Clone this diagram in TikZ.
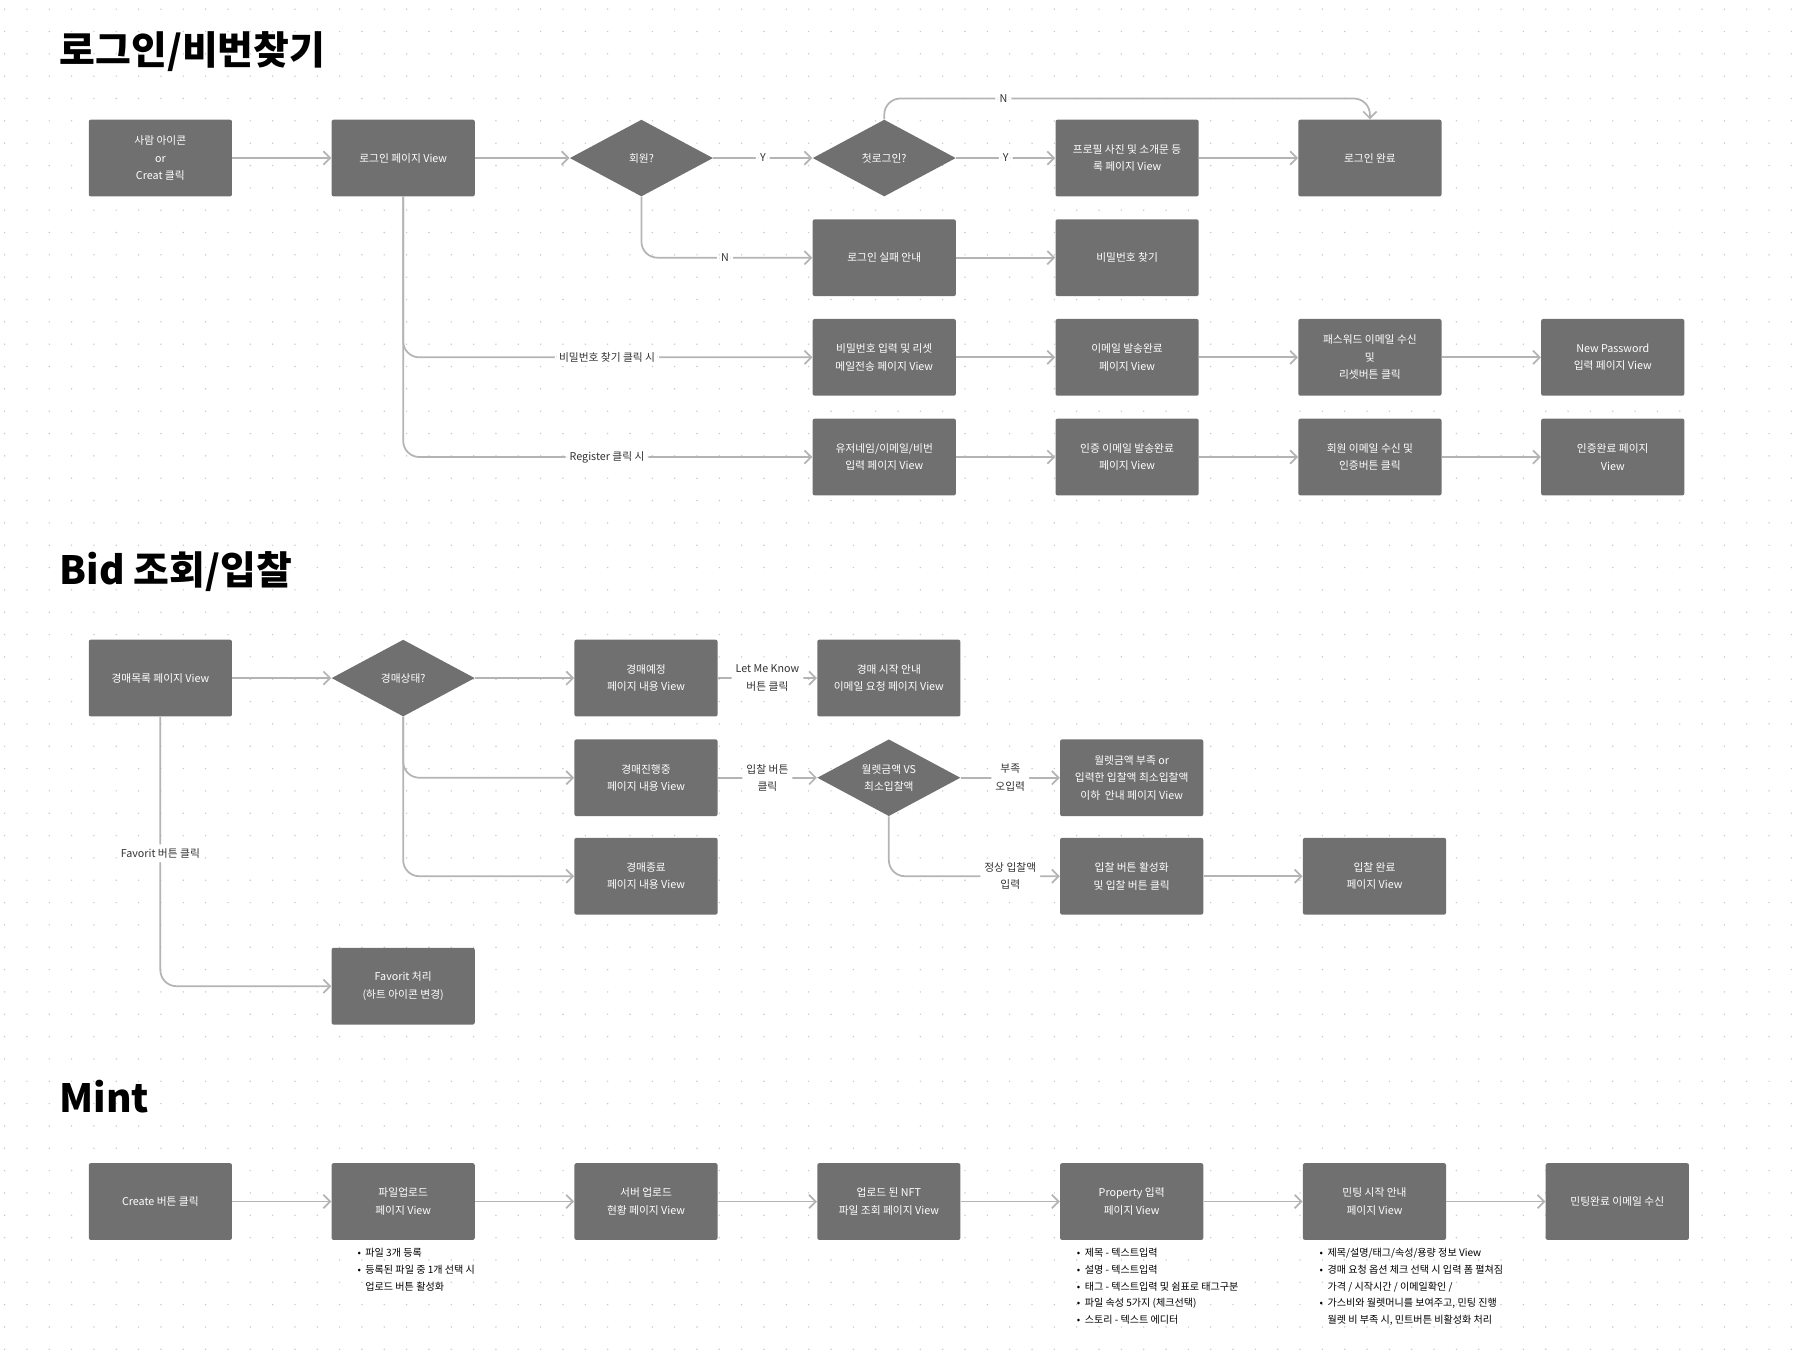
\documentclass[tikz,border=0pt]{standalone}
\usepackage{fontspec}
\setmainfont{Noto Sans CJK KR}
\usetikzlibrary{arrows.meta,shapes.geometric}
\definecolor{boxgray}{HTML}{707070}
\definecolor{linegray}{HTML}{B4B4B4}
\definecolor{dotgray}{HTML}{C8C8C8}
\tikzset{
  box/.style={rectangle, rounded corners=1.5pt, fill=boxgray, text=white, minimum width=3.75cm, minimum height=2.01cm, align=center, font=\fontsize{8}{13}\selectfont},
  dec/.style={diamond, aspect=1.87, fill=boxgray, text=white, minimum width=3.75cm, minimum height=2.01cm, inner sep=0pt, align=center, font=\fontsize{8}{13}\selectfont},
  flow/.style={draw=linegray, line width=1.3pt, -{Straight Barb[length=5pt,width=10pt]}, rounded corners=12pt},
  lbl/.style={fill=white, text=black!80, align=center, inner sep=3pt, font=\fontsize{8}{13}\selectfont},
  title/.style={anchor=west, font=\fontsize{29}{32}\selectfont\bfseries},
  note/.style={anchor=north west, align=left, font=\fontsize{7.5}{12.3}\selectfont}
}
\begin{document}
\begin{tikzpicture}[x=0.03cm, y=-0.03cm]
\useasboundingbox (0,0) rectangle (1568,1187);
% dotted grid
\foreach \i in {0,...,80}{
  \foreach \j in {0,...,60}{
    \fill[dotgray] (\i*19.5+4,\j*19.5+8) circle (0.6pt);
  }
}
% titles
\node[title] (t1) at (48,45) {로그인/비번찾기};
\node[title] (t2) at (48,499) {Bid 조회/입찰};
\node[title] (t3) at (48,957) {Mint};

% login
\node[box] (icon) at (140,138) {사람 아이콘\\or\\Creat 클릭};
\node[box] (loginv) at (352,138) {로그인 페이지 View};
\node[dec] (member) at (560,138) {회원?};
\node[dec] (first) at (772,138) {첫로그인?};
\node[box] (profile) at (984,138) {프로필 사진 및 소개문 등\\록 페이지 View};
\node[box] (done) at (1196,138) {로그인 완료};
\node[box] (fail) at (772,225) {로그인 실패 안내};
\node[box] (findpw) at (984,225) {비밀번호 찾기};
\node[box] (pw1) at (772,312) {비밀번호 입력 및 리셋\\메일전송 페이지 View};
\node[box] (pw2) at (984,312) {이메일 발송완료\\페이지 View};
\node[box] (pw3) at (1196,312) {패스워드 이메일 수신\\및\\리셋버튼 클릭};
\node[box] (pw4) at (1408,312) {New Password\\입력 페이지 View};
\node[box] (reg1) at (772,399) {유저네임/이메일/비번\\입력 페이지 View};
\node[box] (reg2) at (984,399) {인증 이메일 발송완료\\페이지 View};
\node[box] (reg3) at (1196,399) {회원 이메일 수신 및\\인증버튼 클릭};
\node[box] (reg4) at (1408,399) {인증완료 페이지\\View};

\draw[flow] (icon) -- (loginv);
\draw[flow] (loginv) -- (member);
\draw[flow] (member) -- node[lbl]{Y} (first);
\draw[flow] (first) -- node[lbl]{Y} (profile);
\draw[flow] (profile) -- (done);
\draw[flow] (first.north) |- (876,86) node[lbl]{N} -| (done.north);
\draw[flow] (member.south) |- (633,225) node[lbl]{N} -- (fail);
\draw[flow] (fail) -- (findpw);
\draw[flow] (loginv.south) |- (530,312) node[lbl]{비밀번호 찾기 클릭 시} -- (pw1);
\draw[flow] (loginv.south) |- (530,399) node[lbl]{Register 클릭 시} -- (reg1);
\draw[flow] (pw1) -- (pw2);
\draw[flow] (pw2) -- (pw3);
\draw[flow] (pw3) -- (pw4);
\draw[flow] (reg1) -- (reg2);
\draw[flow] (reg2) -- (reg3);
\draw[flow] (reg3) -- (reg4);

% bid
\node[box] (list) at (140,592) {경매목록 페이지 View};
\node[dec] (state) at (352,592) {경매상태?};
\node[box] (soon) at (564,592) {경매예정\\페이지 내용 View};
\node[box] (notify) at (776,592) {경매 시작 안내\\이메일 요청 페이지 View};
\node[box] (live) at (564,679) {경매진행중\\페이지 내용 View};
\node[dec] (wallet) at (776,679) {월렛금액 VS\\최소입찰액};
\node[box] (short) at (988,679) {월렛금액 부족 or\\입력한 입찰액 최소입찰액\\이하\ \ 안내 페이지 View};
\node[box] (ended) at (564,765) {경매종료\\페이지 내용 View};
\node[box] (bidon) at (988,765) {입찰 버튼 활성화\\및 입찰 버튼 클릭};
\node[box] (biddone) at (1200,765) {입찰 완료\\페이지 View};
\node[box] (fav) at (352,861) {Favorit 처리\\(하트 아이콘 변경)};

\draw[flow] (list) -- (state);
\draw[flow] (state) -- (soon);
\draw[flow] (state.south) |- (live);
\draw[flow] (state.south) |- (ended);
\draw[flow] (soon) -- node[lbl]{Let Me Know\\버튼 클릭} (notify);
\draw[flow] (live) -- node[lbl]{입찰 버튼\\클릭} (wallet);
\draw[flow] (wallet) -- node[lbl]{부족\\오입력} (short);
\draw[flow] (wallet.south) |- (882,765) node[lbl]{정상 입찰액\\입력} -- (bidon);
\draw[flow] (bidon) -- (biddone);
\draw[flow] (list.south) -- (140,745) node[lbl]{Favorit 버튼 클릭} |- (fav);

% mint
\node[box] (create) at (140,1049) {Create 버튼 클릭};
\node[box] (upload) at (352,1049) {파일업로드\\페이지 View};
\node[box] (server) at (564,1049) {서버 업로드\\현황 페이지 View};
\node[box] (nft) at (776,1049) {업로드 된 NFT\\파일 조회 페이지 View};
\node[box] (prop) at (988,1049) {Property 입력\\페이지 View};
\node[box] (mintv) at (1200,1049) {민팅 시작 안내\\페이지 View};
\node[box] (mdone) at (1412,1049) {민팅완료 이메일 수신};
\draw[flow] (create) -- (upload);
\draw[flow] (upload) -- (server);
\draw[flow] (server) -- (nft);
\draw[flow] (nft) -- (prop);
\draw[flow] (prop) -- (mintv);
\draw[flow] (mintv) -- (mdone);

\node[note] (n1) at (308,1086) {• \ 파일 3개 등록\\• \ 등록된 파일 중 1개 선택 시\\\phantom{• \ }업로드 버튼 활성화};
\node[note] (n2) at (936,1086) {• \ 제목 - 텍스트입력\\• \ 설명 - 텍스트입력\\• \ 태그 - 텍스트입력 및 쉼표로 태그구분\\• \ 파일 속성 5가지 (체크선택)\\• \ 스토리 - 텍스트 에디터};
\node[note] (n3) at (1148,1086) {• \ 제목/설명/태그/속성/용량 정보 View\\• \ 경매 요청 옵션 체크 선택 시 입력 폼 펼쳐짐\\\phantom{• \ }가격 / 시작시간 / 이메일확인 /\\• \ 가스비와 월렛머니를 보여주고, 민팅 진행\\\phantom{• \ }월렛 비 부족 시, 민트버튼 비활성화 처리};
\end{tikzpicture}
\end{document}
